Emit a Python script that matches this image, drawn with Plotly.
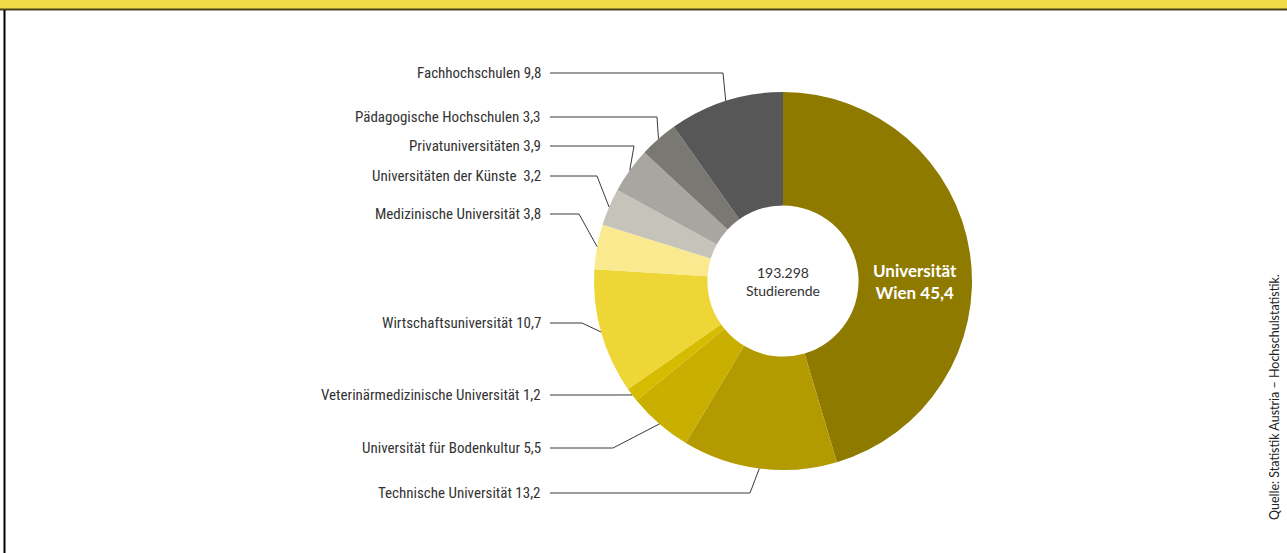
import math
import plotly.graph_objects as go

# Anteil der Studierenden in Wien nach Hochschultyp (in %)
labels = [
    "Universität Wien",
    "Technische Universität",
    "Universität für Bodenkultur",
    "Veterinärmedizinische Universität",
    "Wirtschaftsuniversität",
    "Medizinische Universität",
    "Universitäten der Künste ",
    "Privatuniversitäten",
    "Pädagogische Hochschulen",
    "Fachhochschulen",
]
values = [45.4, 13.2, 5.5, 1.2, 10.7, 3.8, 3.2, 3.9, 3.3, 9.8]
colors = ["#8f7a00", "#b39a00", "#c8af00", "#d6bc00", "#edd636",
          "#fbe98f", "#c6c3bb", "#a9a6a2", "#7a7873", "#575757"]
total_text = "193.298<br>Studierende"
source_text = "Quelle: Statistik Austria – Hochschulstatistik."

W, H = 1287, 553
CX, CY, R = 783, 281, 189
HOLE = 0.4

# label placement (pixels): label y and elbow x of leader line
label_y = [None, 493, 448, 395, 323, 214, 176, 146, 117, 73]
elbow_x = [None, 750, 613, 613, 582, 579, 597, 634, 657, 723]
LABEL_RIGHT = 543
LINE_START = 550

FONT = "Liberation Sans Narrow, Roboto Condensed, Roboto, sans-serif"
FONT2 = "Lato, Open Sans, sans-serif"


def px(x):
    return x / W


def py(y):
    return 1 - y / H


fig = go.Figure()
fig.add_trace(
    go.Pie(
        labels=labels,
        values=values,
        sort=False,
        direction="clockwise",
        rotation=0,
        hole=HOLE,
        marker=dict(colors=colors, line=dict(width=0)),
        textinfo="none",
        hoverinfo="label+value",
        domain=dict(x=[px(CX - R), px(CX + R)], y=[py(CY + R), py(CY - R)]),
        showlegend=False,
    )
)

shapes = []
annotations = []

# leader lines + labels
total = sum(values)
cum = 0
for i, v in enumerate(values):
    mid = (cum + v / 2) / total * 2 * math.pi
    cum += v
    if label_y[i] is None:
        continue
    ax = CX + R * math.sin(mid)
    ay = CY - R * math.cos(mid)
    ly = label_y[i]
    path = "M {} {} L {} {} L {} {}".format(
        px(LINE_START), py(ly), px(elbow_x[i]), py(ly), px(ax), py(ay)
    )
    shapes.append(dict(type="path", xref="paper", yref="paper", path=path,
                       line=dict(color="#3a3a3a", width=1)))
    annotations.append(dict(
        x=px(LABEL_RIGHT), y=py(ly), xref="paper", yref="paper",
        text="{} {}".format(labels[i], str(values[i]).replace(".", ",")),
        showarrow=False, xanchor="right", yanchor="middle",
        font=dict(family=FONT, size=15, color="#333333"),
    ))

# big slice label
annotations.append(dict(
    x=px(CX + R * (1 + HOLE) / 2), y=py(CY), xref="paper", yref="paper",
    text="<b>Universität<br>Wien {}</b>".format(str(values[0]).replace(".", ",")),
    showarrow=False, xanchor="center", yanchor="middle",
    font=dict(family=FONT2, size=17, color="white"),
))

# centre text
annotations.append(dict(
    x=px(CX), y=py(CY), xref="paper", yref="paper", text=total_text,
    showarrow=False, font=dict(family=FONT2, size=14, color="#333333"),
))

# source, rotated
annotations.append(dict(
    x=px(1274), y=py(397), xref="paper", yref="paper", text=source_text,
    showarrow=False, textangle=-90, xanchor="center", yanchor="middle",
    font=dict(family=FONT2, size=12.5, color="#222222"),
))

# top band and frame
shapes.append(dict(type="rect", xref="paper", yref="paper", x0=0, x1=1,
                   y0=py(9), y1=1, fillcolor="#f0dc46", line=dict(width=0)))
shapes.append(dict(type="line", xref="paper", yref="paper", x0=0, x1=1,
                   y0=py(9.5), y1=py(9.5), line=dict(color="#4a4218", width=2)))
shapes.append(dict(type="line", xref="paper", yref="paper", x0=px(4.5), x1=px(4.5),
                   y0=0, y1=py(10), line=dict(color="black", width=2)))

fig.update_layout(
    width=W,
    height=H,
    margin=dict(l=0, r=0, t=0, b=0),
    paper_bgcolor="white",
    plot_bgcolor="white",
    shapes=shapes,
    annotations=annotations,
)

fig.write_html("out.html", config={"displayModeBar": False},
               post_script="document.body.style.margin='0';")
